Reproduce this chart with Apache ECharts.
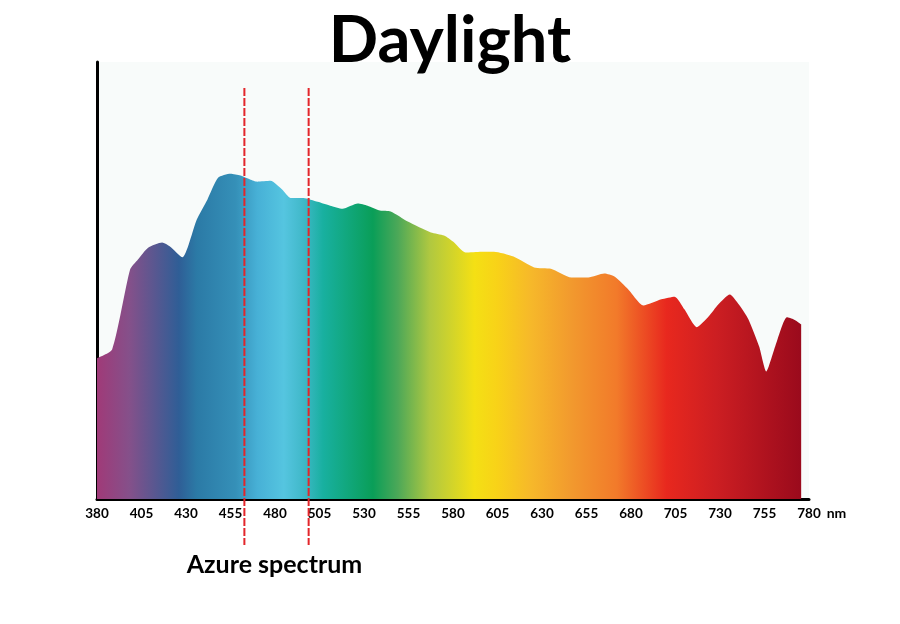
<!DOCTYPE html>
<html><head><meta charset="utf-8">
<script src="https://cdn.jsdelivr.net/npm/echarts@6/dist/echarts.min.js"></script>
<style>html,body{margin:0;padding:0;background:#fff}#c{width:900px;height:624px}</style>
</head><body><div id="c"></div>
<script>
const wavelengths = [380, 388.5, 398.6, 403, 408.7, 416.6, 421, 428, 436, 442,
  448, 455, 460.6, 466, 470, 477.5, 484, 488.7, 496, 504,
  511, 518, 526.5, 532, 539, 545, 554.6, 567.6, 575, 580,
  587, 596, 603, 614, 625.6, 635, 646.5, 656, 665, 670.7,
  678.6, 687, 697, 704.5, 710, 717, 723.7, 729, 735.5, 740.6,
  746, 752, 756, 761, 767.6, 771.5, 775.6];
const intensity = [32.2, 34.2, 52.5, 54.8, 57.5, 58.7, 57.8, 55.3, 63.9, 68.5,
  73.5, 74.4, 74.0, 73.1, 72.6, 72.8, 70.8, 68.9, 68.9, 68.0,
  67.1, 66.4, 67.6, 67.1, 66.0, 65.8, 63.5, 61.0, 60.3, 58.9,
  56.4, 56.6, 56.6, 55.5, 53.0, 52.7, 50.7, 50.7, 51.6, 50.9,
  47.9, 44.3, 45.7, 46.3, 43.4, 39.3, 41.8, 44.5, 46.8, 44.5,
  41.1, 34.9, 29.2, 34.9, 41.6, 41.1, 40.0];
const tickLabels = [380, 405, 430, 455, 480, 505, 530, 555, 580, 605, 630, 655, 680, 705, 730, 755, 780];
const azureRange = [462.8, 498.9];
const titleText = 'Daylight';
const azureLabel = 'Azure spectrum';
const unitLabel = 'nm';

const stopNm = [380, 398, 426, 436, 458, 470, 485, 496, 507, 535, 549, 567, 592, 605, 624, 646, 672, 700, 728, 775.6];
const stopColors = ['#a03a78', '#85508a', '#2f5e96', '#2b7aa6', '#3590b8', '#47b0d6', '#55c5e0', '#40b8c8', '#18b0a0', '#0a9e58', '#4ca858', '#b0c840', '#f4e014', '#f8d218', '#f6b82a', '#f29a2e', '#f27a2a', '#e8281e', '#cc1e22', '#9a0a1c'];

const lo = wavelengths[0], hi = wavelengths[wavelengths.length - 1];
const gradStops = stopNm.map((n, i) => ({ offset: (n - lo) / (hi - lo), color: stopColors[i] }));
const data = wavelengths.map((w, i) => [w, intensity[i]]);

const chart = echarts.init(document.getElementById('c'), null, { renderer: 'canvas' });
chart.setOption({
  animation: false,
  backgroundColor: '#ffffff',
  title: {
    text: titleText, left: 'center', top: 4,
    textStyle: { fontFamily: 'Lato', fontWeight: 'bold', fontSize: 65, color: '#000' }
  },
  grid: { left: 97, right: 91, top: 62, bottom: 125, show: true, backgroundColor: '#f8fbfa', borderWidth: 0 },
  xAxis: {
    type: 'value', min: 380, max: 780,
    name: unitLabel, nameLocation: 'end', nameGap: 14,
    nameTextStyle: { fontFamily: 'Lato', fontWeight: 'bold', fontSize: 14, color: '#000', verticalAlign: 'top', align: 'left', padding: [7, 0, 0, 0] },
    axisLine: { show: true, lineStyle: { color: '#000', width: 3 } },
    axisTick: { show: false },
    splitLine: { show: false },
    axisLabel: { customValues: tickLabels, margin: 8, fontFamily: 'Lato', fontWeight: 'bold', fontSize: 13.5, color: '#000' }
  },
  yAxis: {
    type: 'value', min: 0, max: 100,
    axisLine: { show: true, lineStyle: { color: '#000', width: 3 } },
    axisTick: { show: false }, axisLabel: { show: false }, splitLine: { show: false }
  },
  series: [{
    type: 'line', data: data, smooth: 0.2, symbol: 'none',
    lineStyle: { width: 0, opacity: 0 },
    areaStyle: { opacity: 1, color: new echarts.graphic.LinearGradient(0, 0, 1, 0, gradStops) }
  }]
});

const xa = chart.convertToPixel({ xAxisIndex: 0 }, azureRange[0]);
const xb = chart.convertToPixel({ xAxisIndex: 0 }, azureRange[1]);
const dash = { stroke: '#e3262b', lineWidth: 2, lineDash: [8, 2] };
chart.setOption({
  graphic: [
    { type: 'line', z: 100, shape: { x1: xa, y1: 88, x2: xa, y2: 545 }, style: dash },
    { type: 'line', z: 100, shape: { x1: xb, y1: 88, x2: xb, y2: 545 }, style: dash },
    { type: 'text', z: 100, x: (xa + xb) / 2 - 2, y: 565,
      style: { text: azureLabel, fill: '#000', font: 'bold 25px Lato', textAlign: 'center', textVerticalAlign: 'middle' } }
  ]
});
</script></body></html>
